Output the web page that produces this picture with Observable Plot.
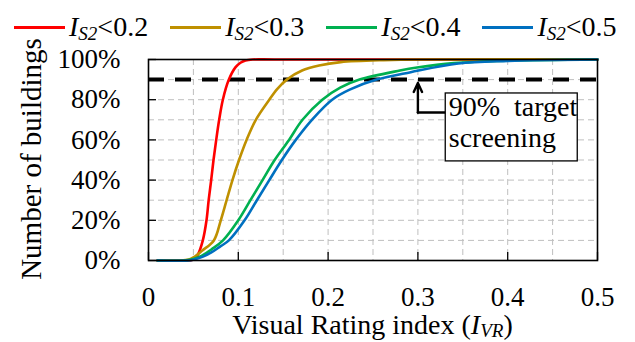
<!DOCTYPE html>
<html>
<head>
<meta charset="utf-8">
<script src="https://cdn.jsdelivr.net/npm/d3@7"></script>
<script src="https://cdn.jsdelivr.net/npm/@observablehq/plot@0.6"></script>
<style>
  html, body { margin: 0; padding: 0; background: #fff; }
  body { width: 635px; height: 342px; position: relative; overflow: hidden; font-family: 'Liberation Serif', 'Times New Roman', serif; }
  #legend { position: absolute; top: 10px; left: 14px; display: flex; gap: 22px; font-size: 28px; line-height: 34px; white-space: nowrap; }
  #legend .item { display: flex; align-items: center; }
  #legend .sw { display: inline-block; width: 51px; height: 3px; margin-right: 4px; }
  sub { font-size: 0.68em; vertical-align: -0.2em; line-height: 0; }
  #xtitle sub { vertical-align: -0.15em; }
  #xtitle { position: absolute; left: 148px; width: 449px; top: 311px; text-align: center; font-size: 28px; line-height: 28px; white-space: nowrap; }
  #ytitle { position: absolute; left: 31px; top: 159px; transform: translate(-50%, -50%) rotate(-90deg); font-size: 29px; line-height: 29px; white-space: nowrap; }
  #chart { position: absolute; top: 0; left: 0; }
</style>
</head>
<body>
<div id="chart"></div>
<div id="legend"></div>
<div id="xtitle">Visual Rating index (<i>I</i><sub><i>VR</i></sub>)</div>
<div id="ytitle">Number of buildings</div>
<script>
// ---- data ----
const seriesNames = ["0.2", "0.3", "0.4", "0.5"];
const seriesColors = ["#FF0000", "#BF9000", "#00B050", "#0070C0"];

const redX  = [0.01, 0.045, 0.05, 0.055, 0.0605, 0.0646, 0.067, 0.0698, 0.0724, 0.0754, 0.0787, 0.0828, 0.0895, 0.097, 0.1024, 0.108, 0.116, 0.14, 0.5];
const redY  = [0, 0, 0.5, 3, 10, 20, 30, 40, 50, 60, 70, 80, 90, 96.2, 98.4, 99.5, 100, 100, 100];

const goldX = [0.01, 0.035, 0.045, 0.05, 0.06, 0.0728, 0.0805, 0.087, 0.0935, 0.1008, 0.1092, 0.1195, 0.1345, 0.1435, 0.154, 0.171, 0.19, 0.214, 0.262, 0.32, 0.5];
const goldY = [0, 0, 0.5, 1.5, 5, 10, 20, 30, 40, 50, 60, 70, 80, 85.4, 90, 94.5, 97, 98.7, 99.7, 100, 100];

const greenX = [0.01, 0.04, 0.05, 0.06, 0.07, 0.083, 0.100, 0.1135, 0.127, 0.1405, 0.1565, 0.1715, 0.1935, 0.2135, 0.235, 0.28, 0.299, 0.34, 0.4, 0.5];
const greenY = [0, 0, 0.7, 2.5, 5.5, 10, 20, 30, 40, 50, 60, 70, 80, 86, 90, 94.5, 96, 98.2, 99.4, 100];

const blueX = [0.01, 0.045, 0.05, 0.06, 0.07, 0.08, 0.0895, 0.107, 0.1207, 0.1345, 0.1485, 0.164, 0.182, 0.2045, 0.224, 0.254, 0.292, 0.345, 0.4, 0.5];
const blueY = [0, 0, 0.4, 1.8, 4, 7, 10, 20, 30, 40, 50, 60, 70, 80, 85, 90, 93.7, 98, 99.3, 100];

const xTicks = [0, 0.1, 0.2, 0.3, 0.4, 0.5];
const yTicks = [0, 20, 40, 60, 80, 100];
const xGrid = [0.05, 0.1, 0.15, 0.2, 0.25, 0.3, 0.35, 0.4, 0.45];
const yGrid = [10, 20, 30, 40, 50, 60, 70, 80, 90];

const targetLevel = 90;
const annotationText = ["90%  target", "screening"];
const arrowX = [0.3, 0.3, 0.331];
const arrowY = [88.3, 73.6, 73.6];
const boxX = [0.331, 0.478];
const boxY = [49.3, 83.1];

// ---- build tables ----
const xs = [redX, goldX, greenX, blueX];
const ys = [redY, goldY, greenY, blueY];
const rows = [];
seriesNames.forEach((s, i) => xs[i].forEach((x, j) => rows.push({series: s, x, y: ys[i][j]})));
const elbow = [{x: arrowX[1], y: arrowY[1]}, {x: arrowX[2], y: arrowY[2]}];
const arrowHead = [{x1: arrowX[1], y1: arrowY[1], x2: arrowX[0], y2: arrowY[0]}];

// legend
const leg = document.getElementById("legend");
seriesNames.forEach((s, i) => {
  const it = document.createElement("div");
  it.className = "item";
  it.innerHTML = `<span class="sw" style="background:${seriesColors[i]}"></span><span><i>I</i><sub><i>S2</i></sub>&lt;${s}</span>`;
  leg.appendChild(it);
});

const chart = Plot.plot({
  width: 635,
  height: 342,
  marginLeft: 148,
  marginRight: 38,
  marginTop: 59,
  marginBottom: 82,
  style: {fontFamily: "'Liberation Serif', 'Times New Roman', serif", fontSize: "27px", color: "black", background: "transparent", overflow: "visible"},
  x: {domain: [0, 0.5]},
  y: {domain: [0, 100]},
  color: {domain: seriesNames, range: seriesColors},
  marks: [
    Plot.gridX(xGrid, {stroke: "#bfbfbf", strokeOpacity: 1, strokeDasharray: "6,4", strokeWidth: 1}),
    Plot.gridY(yGrid, {stroke: "#bfbfbf", strokeOpacity: 1, strokeDasharray: "6,4", strokeWidth: 1}),
    Plot.ruleY([targetLevel], {stroke: "black", strokeWidth: 4, strokeDasharray: "16,11"}),
    Plot.line(rows, {x: "x", y: "y", z: "series", stroke: "series", strokeWidth: 2.6, curve: "catmull-rom"}),
    Plot.frame({stroke: "black", strokeWidth: 1.6}),
    Plot.axisX(xTicks, {tickSize: -8, tickPadding: 34, tickFormat: d => String(+d.toFixed(2)), label: null, stroke: "black", strokeWidth: 1.3}),
    Plot.axisY(yTicks, {tickSize: -8, tickPadding: 36, tickFormat: d => d + "%", label: null, stroke: "black", strokeWidth: 1.3}),
    Plot.line(elbow, {x: "x", y: "y", stroke: "black", strokeWidth: 2.4}),
    Plot.arrow(arrowHead, {x1: "x1", y1: "y1", x2: "x2", y2: "y2", stroke: "black", strokeWidth: 2.4, headLength: 13, headAngle: 50}),
    Plot.rect([0], {x1: boxX[0], x2: boxX[1], y1: boxY[0], y2: boxY[1], fill: "white", stroke: "black", strokeWidth: 1.3}),
    Plot.text([annotationText.join("\n")], {x: boxX[0], y: boxY[1], text: d => d, textAnchor: "start", lineAnchor: "top", dx: 3, dy: 1, fontSize: 28, lineHeight: 1.1})
  ]
});
document.getElementById("chart").appendChild(chart);
</script>
</body>
</html>
